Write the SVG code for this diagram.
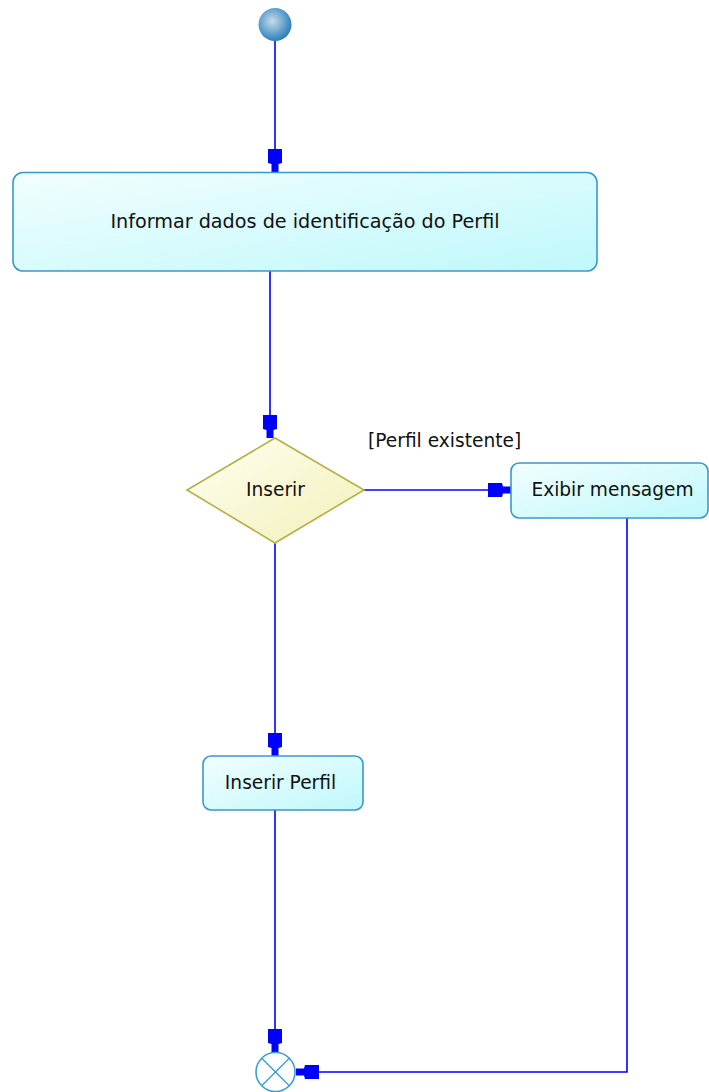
<svg xmlns="http://www.w3.org/2000/svg" width="709" height="1092" viewBox="0 0 709 1092">
  <defs>
    <linearGradient id="actFill" x1="0" y1="0" x2="1" y2="1">
      <stop offset="0" stop-color="#f2fefe"/>
      <stop offset="1" stop-color="#bff8fb"/>
    </linearGradient>
    <linearGradient id="decFill" x1="0" y1="0" x2="1" y2="1">
      <stop offset="0" stop-color="#fffff2"/>
      <stop offset="1" stop-color="#f2f0b8"/>
    </linearGradient>
    <radialGradient id="startFill" cx="0.42" cy="0.4" r="0.6">
      <stop offset="0" stop-color="#c8dce8"/>
      <stop offset="1" stop-color="#2a80bd"/>
    </radialGradient>
    <marker id="arr" viewBox="-24 -8 25 16" refX="0" refY="0" markerWidth="25" markerHeight="16" markerUnits="userSpaceOnUse" orient="auto">
      <path d="M0,-3.5 L-8,-3.5 L-9,-7 L-23,-7 L-23,7 L-9,7 L-8,3.5 L0,3.5 Z" fill="#0000ff"/>
    </marker>
    <style>
      .act { fill: url(#actFill); stroke: #3a98d0; stroke-width: 1.6; }
      .dec { fill: url(#decFill); stroke: #b5b045; stroke-width: 1.6; }
      .lbl { font-family: "DejaVu Sans", Verdana, sans-serif; font-size: 18.6px; fill: #111111; }
      .conn { fill: none; stroke: #0000ff; stroke-width: 1.6; marker-end: url(#arr); }
    </style>
  </defs>

  <g id="connectors">
    <path class="conn" d="M275,41 L275,172"/>
    <path class="conn" d="M270,271 L270,438"/>
    <path class="conn" d="M364,490 L511,490"/>
    <path class="conn" d="M275,543 L275,756"/>
    <path class="conn" d="M275,810 L275,1052"/>
    <path class="conn" d="M627,518 L627,1072 L296,1072"/>
  </g>

  <g id="start">
    <circle cx="275" cy="24.5" r="16.5" fill="url(#startFill)"/>
  </g>

  <g id="informar">
    <rect class="act" x="13" y="172.5" width="584" height="98.5" rx="10" ry="10"/>
    <text class="lbl" x="305" y="228" text-anchor="middle" style="font-size:19.2px">Informar dados de identificação do Perfil</text>
  </g>

  <g id="decision">
    <polygon class="dec" points="275,438 364,490 275,543 187,490"/>
    <text class="lbl" x="275.5" y="496" text-anchor="middle">Inserir</text>
  </g>

  <g id="guard">
    <text class="lbl" x="368" y="447">[Perfil existente]</text>
  </g>

  <g id="exibir">
    <rect class="act" x="511" y="463" width="197" height="55" rx="8" ry="8"/>
    <text class="lbl" x="612.5" y="496" text-anchor="middle">Exibir mensagem</text>
  </g>

  <g id="inserirPerfil">
    <rect class="act" x="203" y="756" width="160" height="54" rx="8" ry="8"/>
    <text class="lbl" x="280.5" y="789" text-anchor="middle">Inserir Perfil</text>
  </g>

  <g id="final">
    <circle cx="275.5" cy="1072" r="19.5" fill="#ffffff" stroke="#3a9fd2" stroke-width="1.6"/>
    <line x1="261.7" y1="1058.2" x2="289.3" y2="1085.8" stroke="#3a9fd2" stroke-width="1.4"/>
    <line x1="289.3" y1="1058.2" x2="261.7" y2="1085.8" stroke="#3a9fd2" stroke-width="1.4"/>
  </g>
</svg>
